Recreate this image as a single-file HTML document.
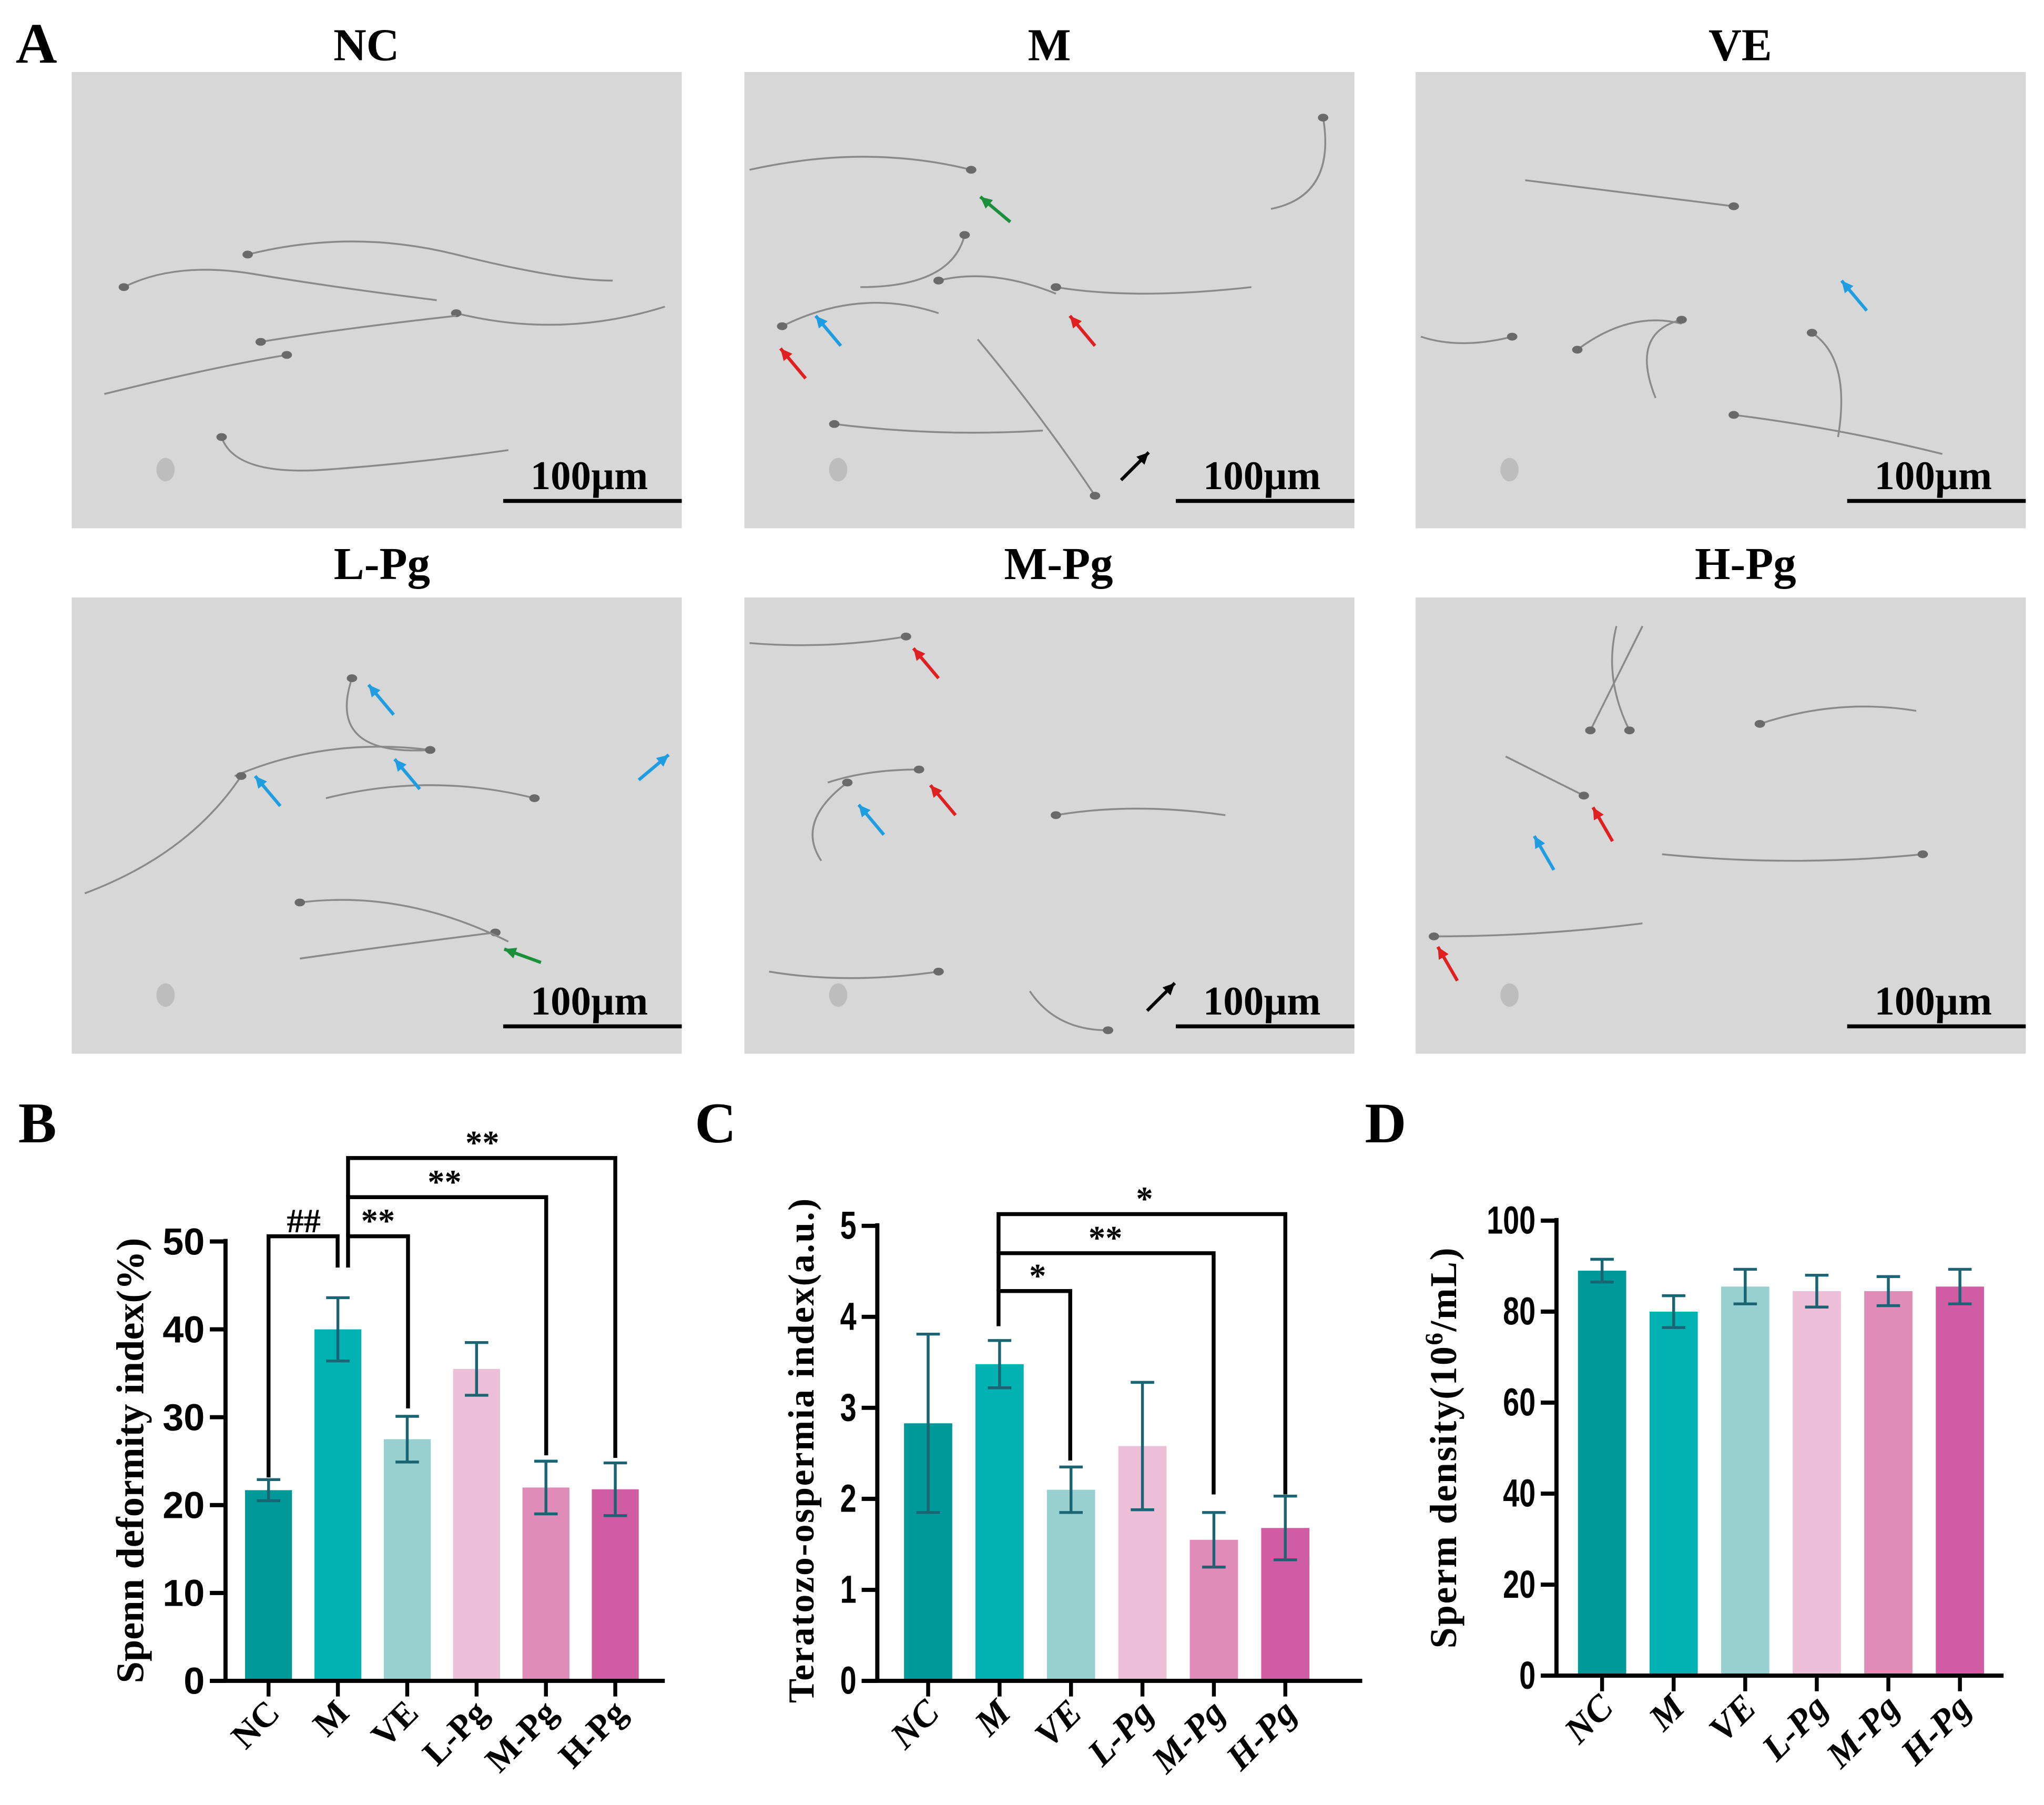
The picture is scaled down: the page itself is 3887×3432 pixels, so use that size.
<!DOCTYPE html>
<html><head><meta charset="utf-8">
<style>
html,body{margin:0;padding:0;background:#fff;}
svg{display:block;}
.serif{font-family:"Liberation Serif","Times New Roman",serif;font-weight:bold;}
.sans{font-family:"Liberation Sans",Arial,sans-serif;font-weight:bold;}
</style></head>
<body>
<svg id="fig" width="3887" height="3432" viewBox="0 0 1568 1384" xmlns="http://www.w3.org/2000/svg">
<rect width="1568" height="1384" fill="#fff"/>
<g id="panelA"></g>
<g id="chartB"></g>
<g id="chartC"></g>
<g id="chartD"></g>
</svg>
<script>
// ---- data ----
const categories = ["NC","M","VE","L-Pg","M-Pg","H-Pg"];
const barColors = ["#009999","#00b2b2","#96d0d0","#ecbfd6","#e08cb8","#d05ca3"];
const deformityValues = [21.7, 40.0, 27.5, 35.5, 22.0, 21.8];
const deformityErrors = [1.2, 3.6, 2.6, 3.0, 3.0, 3.0];
const deformityTicks = [0,10,20,30,40,50];
const teratoValues = [2.83, 3.48, 2.10, 2.58, 1.55, 1.68];
const teratoErrors = [0.98, 0.26, 0.25, 0.70, 0.30, 0.35];
const teratoTicks = [0,1,2,3,4,5];
const densityValues = [89.0, 80.0, 85.5, 84.5, 84.5, 85.5];
const densityErrors = [2.5, 3.5, 3.8, 3.5, 3.2, 3.8];
const densityTicks = [0,20,40,60,80,100];
const panelTitles = ["NC","M","VE","L-Pg","M-Pg","H-Pg"];

const NS="http://www.w3.org/2000/svg";
const SERIF='"Liberation Serif","Times New Roman",serif';
const SANS='"Liberation Sans",Arial,sans-serif';
function mk(tag, attrs, parent){const e=document.createElementNS(NS,tag);for(const k in attrs)e.setAttribute(k,attrs[k]);if(parent)parent.appendChild(e);return e;}

// ---- panel A ----
const A=document.getElementById('panelA');
const la=mk('text',{x:12,y:48,'font-size':44,class:'serif','font-family':SERIF,'font-weight':'bold'},A);la.textContent='A';


const colsX=[55,571,1086], rowsY=[55,458], titleY=[46,444];
const titleX=[[281,805,1335],[293,812,1339]];
const sperm=[
 [[95,220,"q40,-20 100,-10 t140,20"],[190,195,"q80,-20 160,0 t120,20"],[350,240,"q80,20 160,-5"],[200,262,"q60,-10 150,-20"],[220,272,"q-60,10 -140,30"],[170,335,"q10,30 80,25 t140,-15"]],
 [[745,130,"q-80,-20 -170,0"],[600,250,"q60,-30 120,-10"],[810,220,"q60,10 150,0"],[740,180,"q-10,40 -80,40"],[720,215,"q40,-10 90,10"],[840,380,"q-40,-60 -90,-120"],[1015,90,"q10,60 -40,70"],[640,325,"q80,10 160,5"]],
 [[1330,158,"q-80,-10 -160,-20"],[1210,268,"q40,-30 80,-20"],[1390,255,"q30,20 20,80"],[1330,318,"q80,10 160,30"],[1160,258,"q-40,10 -70,0"],[1290,245,"q-40,10 -20,60"]],
 [[270,520,"q-20,60 60,55"],[330,575,"q-80,-10 -150,20"],[410,612,"q-80,-20 -160,0"],[185,595,"q-40,60 -120,90"],[380,715,"q-80,10 -150,20"],[230,692,"q80,-10 160,30"]],
 [[695,488,"q-60,10 -120,5"],[650,600,"q-40,30 -20,60"],[705,590,"q-40,0 -70,10"],[810,625,"q60,-10 130,0"],[720,745,"q-70,10 -130,0"],[850,790,"q-40,0 -60,-30"]],
 [[1215,610,"q-40,-20 -60,-30"],[1220,560,"q20,-40 40,-80"],[1350,555,"q60,-20 120,-10"],[1475,655,"q-100,10 -200,0"],[1100,718,"q80,0 160,-10"],[1250,560,"q-20,-40 -10,-80"]]
];
const arrows=[
 [],
 [[775,170,-140,"#1b8f3a"],[618,290,-130,"#e02020"],[645,265,-130,"#1e9de0"],[840,265,-130,"#e02020"],[860,368,-45,"#000"]],
 [[1432,238,-130,"#1e9de0"]],
 [[302,548,-130,"#1e9de0"],[322,605,-130,"#1e9de0"],[215,618,-130,"#1e9de0"],[490,598,-40,"#1e9de0"],[415,738,-160,"#1b8f3a"]],
 [[720,520,-130,"#e02020"],[733,625,-130,"#e02020"],[678,640,-130,"#1e9de0"],[880,775,-45,"#000"]],
 [[1237,645,-120,"#e02020"],[1192,667,-120,"#1e9de0"],[1118,752,-120,"#e02020"]]
];
for(let r=0;r<2;r++)for(let c=0;c<3;c++){
  const i=r*3+c,x=colsX[c],y=rowsY[r];
  const g=mk('g',{},A);
  
  
  mk('rect',{x:x,y:y,width:468,height:350,fill:'#d7d7d7'},g);
  mk('ellipse',{cx:x+72,cy:y+305,rx:7,ry:9,fill:'#bdbdbd'},g);
  sperm[i].forEach(s=>{
    mk('path',{d:`M${s[0]},${s[1]} ${s[2]}`,fill:'none',stroke:'#8a8a8a','stroke-width':1.4},g);
    mk('ellipse',{cx:s[0],cy:s[1],rx:4,ry:3,fill:'#6a6a6a'},g);
  });
  arrows[i].forEach(a=>{
    const ang=a[2]*Math.PI/180,L=30;
    const x2=a[0]+Math.cos(ang)*L,y2=a[1]+Math.sin(ang)*L;
    mk('line',{x1:a[0],y1:a[1],x2:x2,y2:y2,stroke:a[3],'stroke-width':2.5},g);
    const hx=x2,hy=y2,p1=ang+Math.PI-0.45,p2=ang+Math.PI+0.45;
    mk('polygon',{points:`${hx},${hy} ${hx+Math.cos(p1)*10},${hy+Math.sin(p1)*10} ${hx+Math.cos(p2)*10},${hy+Math.sin(p2)*10}`,fill:a[3]},g);
  });
  mk('line',{x1:x+331,y1:y+329,x2:x+468,y2:y+329,stroke:'#000','stroke-width':3},g);
  const sb=mk('text',{x:x+397,y:y+320,'font-size':31,'text-anchor':'middle',class:'serif','font-family':SERIF,'font-weight':'bold'},g);sb.textContent='100µm';
  
  
  const t=mk('text',{x:titleX[r][c],y:titleY[r],'font-size':35,'text-anchor':'middle',class:'serif','font-family':SERIF,'font-weight':'bold'},A);t.textContent=panelTitles[i];
  
  
}

// ---- bar charts ----
function barChart(o){
  const G=document.getElementById(o.id);
  const yS=v=>o.y0-(v-o.min)/(o.max-o.min)*(o.y0-o.yTop);
  const xS=i=>o.x0Bar+i*o.step;
  const lab=mk('text',{x:o.lx,y:o.ly,'font-size':44,class:'serif','font-family':SERIF,'font-weight':'bold'},G);lab.textContent=o.label;
  
  
  o.values.forEach((v,i)=>{
    const b=mk('rect',{x:xS(i)-o.bw/2,y:yS(v),width:o.bw,height:o.y0-yS(v),fill:barColors[i]},G);
    
    
    const e=o.errors[i],x=xS(i);
    const eg=mk('g',{stroke:'#1b6474','stroke-width':2.2},G);
    
    
    mk('line',{x1:x,y1:yS(v+e),x2:x,y2:yS(v-e)},eg);
    mk('line',{x1:x-9,y1:yS(v+e),x2:x+9,y2:yS(v+e)},eg);
    mk('line',{x1:x-9,y1:yS(v-e),x2:x+9,y2:yS(v-e)},eg);
    mk('line',{x1:x,y1:o.y0,x2:x,y2:o.y0+12,stroke:'#000','stroke-width':3},G);
    const t=mk('text',{transform:`translate(${x+10},${o.y0+26}) rotate(-45)`,'font-size':o.xfs,'text-anchor':'end',class:'serif','font-family':SERIF,'font-weight':'bold','font-style':o.italic?'italic':'normal'},G);
    t.textContent=categories[i];
    
    
  });
  const ax=mk('g',{stroke:'#000','stroke-width':3.2},G);
  
  
  mk('line',{x1:o.ax,y1:o.yTop-2,x2:o.ax,y2:o.y0},ax);
  mk('line',{x1:o.ax-12,y1:o.y0,x2:o.xEnd,y2:o.y0},ax);
  o.ticks.forEach(tv=>{
    mk('line',{x1:o.ax-12,y1:yS(tv),x2:o.ax,y2:yS(tv)},ax);
    const t=mk('text',{x:o.ax-16,y:yS(tv)+10,'font-size':o.tfs,'text-anchor':'end',class:'sans','font-family':SANS,'font-weight':'bold',transform:`translate(${(o.ax-16)*(1-o.tsx)},0) scale(${o.tsx},1)`},G);
    t.textContent=tv;
    
    
  });
  const yl=mk('text',{transform:`translate(${o.ylx},${o.yly}) rotate(-90)`,'font-size':o.yfs,'text-anchor':'middle',class:'serif','font-family':SERIF,'font-weight':'bold','letter-spacing':o.ls||0},G);
  yl.innerHTML=o.ylabel;
  
  
  (o.brackets||[]).forEach(br=>{
    const bg=mk('g',{},G);
    
    
    mk('polyline',{points:`${br[0]},${br[1]} ${br[0]},${br[2]} ${br[3]},${br[2]} ${br[3]},${br[4]}`,fill:'none',stroke:'#000','stroke-width':3},bg);
    const t=mk('text',{x:br[5],y:br[2]-3,'font-size':26,'text-anchor':'middle',class:'serif','font-family':SERIF,'font-weight':'bold'},bg);t.textContent=br[6];
  });
}
barChart({id:'chartB',label:'B',lx:14,ly:876,values:deformityValues,errors:deformityErrors,ticks:deformityTicks,min:0,max:50,y0:1289,yTop:952,ax:173,xEnd:510,x0Bar:206,step:53.2,bw:36,xfs:27,tfs:29,tsx:1,italic:false,
 ylx:110,yly:1120,yfs:30,ylabel:'Spenn deformity index(%)',
 brackets:[[206,1133,948,259,972,233,'##'],[267,972,948,313,1080,290,'**'],[267,948,918,419,1116,341,'**'],[267,918,888,472,1118,370,'**']]});
barChart({id:'chartC',label:'C',lx:533,ly:876,values:teratoValues,errors:teratoErrors,ticks:teratoTicks,min:0,max:5,y0:1289,yTop:940,ax:673,xEnd:1045,x0Bar:712,step:54.8,bw:37,xfs:28,tfs:30,tsx:0.75,italic:true,
 ylx:624,yly:1112,yfs:28,ylabel:'Teratozo-ospermia index(a.u.)',ls:1,
 brackets:[[766,1017,990,821,1120,796,'*'],[766,990,961,931,1146,848,'**'],[766,961,931,986,1146,878,'*']]});
barChart({id:'chartD',label:'D',lx:1047,ly:876,values:densityValues,errors:densityErrors,ticks:densityTicks,min:0,max:100,y0:1285,yTop:936,ax:1194,xEnd:1537,x0Bar:1229,step:54.9,bw:37,xfs:28,tfs:30,tsx:0.75,italic:true,
 ylx:1117,yly:1110,yfs:29,ylabel:'Sperm density(10<tspan baseline-shift="super" font-size="19">6</tspan>/mL)',ls:1});
</script>
</body></html>
